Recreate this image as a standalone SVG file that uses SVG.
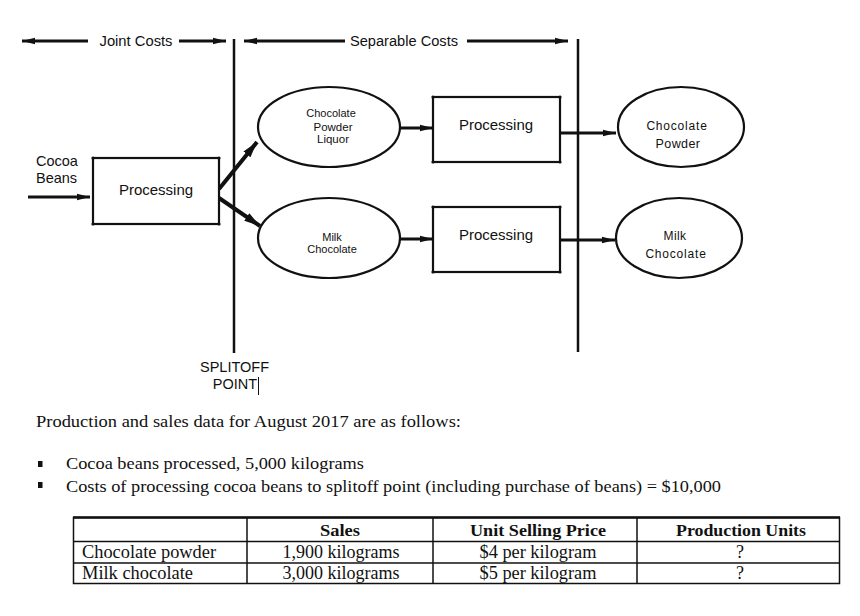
<svg xmlns="http://www.w3.org/2000/svg" width="860" height="616" viewBox="0 0 860 616">
<style>
.sans{font-family:"Liberation Sans",Arial,sans-serif;fill:#111}
.serif{font-family:"Liberation Serif","Times New Roman",serif;fill:#111}
.box{fill:#fff;stroke:#111;stroke-width:2.2}
.ell{fill:#fff;stroke:#111;stroke-width:2.2}
.ln{stroke:#111;fill:none}
.dot{fill:#111}
.tl{stroke:#111;stroke-width:1.5}
</style>
<defs>
<marker id="ah" markerUnits="userSpaceOnUse" markerWidth="14" markerHeight="8" refX="13" refY="4" orient="auto">
<path d="M0,0.8 L13,4 L0,7.2 Z" fill="#111"/>
</marker>
<marker id="ahs" markerUnits="userSpaceOnUse" markerWidth="14" markerHeight="8" refX="1" refY="4" orient="auto">
<path d="M14,0.8 L1,4 L14,7.2 Z" fill="#111"/>
</marker>
<marker id="ahb" markerUnits="userSpaceOnUse" markerWidth="17" markerHeight="11" refX="16" refY="5.5" orient="auto">
<path d="M0,1 L16,5.5 L0,10 Z" fill="#111"/>
</marker>
</defs>

<g id="connectors">
<line class="ln" x1="22" y1="41" x2="88" y2="41" stroke-width="3" marker-start="url(#ahs)"/>
<line class="ln" x1="179" y1="41" x2="226" y2="41" stroke-width="3" marker-end="url(#ah)"/>
<line class="ln" x1="244" y1="41" x2="345" y2="41" stroke-width="3" marker-start="url(#ahs)"/>
<line class="ln" x1="467" y1="41" x2="568" y2="41" stroke-width="3" marker-end="url(#ah)"/>
<line class="ln" x1="234" y1="39" x2="234" y2="353" stroke-width="2.5"/>
<line class="ln" x1="578" y1="39" x2="578" y2="352" stroke-width="2.5"/>
<line class="ln" x1="28" y1="197" x2="90" y2="197" stroke-width="3" marker-end="url(#ah)"/>
<line class="ln" x1="219" y1="189" x2="257" y2="142" stroke-width="4" marker-end="url(#ahb)"/>
<line class="ln" x1="219" y1="198" x2="260" y2="226" stroke-width="4" marker-end="url(#ahb)"/>
<line class="ln" x1="400" y1="128" x2="433" y2="128" stroke-width="3" marker-end="url(#ah)"/>
<line class="ln" x1="400" y1="239" x2="433" y2="239" stroke-width="3" marker-end="url(#ah)"/>
<line class="ln" x1="560" y1="133" x2="616" y2="133" stroke-width="3" marker-end="url(#ah)"/>
<line class="ln" x1="560" y1="240" x2="615" y2="240" stroke-width="3" marker-end="url(#ah)"/>
</g>

<g id="label-joint"><text class="sans" x="136" y="46" font-size="14" text-anchor="middle" textLength="73" lengthAdjust="spacingAndGlyphs">Joint Costs</text></g>
<g id="label-separable"><text class="sans" x="404" y="46" font-size="14" text-anchor="middle" textLength="108" lengthAdjust="spacingAndGlyphs">Separable Costs</text></g>

<g id="cocoa-beans">
<text class="sans" x="36" y="166" font-size="14.5">Cocoa</text>
<text class="sans" x="36" y="183" font-size="14.5">Beans</text>
</g>

<g id="processing-joint">
<rect class="box" x="93" y="158" width="126" height="66"/>
<circle class="dot" cx="93" cy="158" r="1.6"/><circle class="dot" cx="219" cy="158" r="1.6"/>
<circle class="dot" cx="93" cy="224" r="1.6"/><circle class="dot" cx="219" cy="224" r="1.6"/>
<text class="sans" x="156" y="195" font-size="15" text-anchor="middle">Processing</text>
</g>

<g id="chocolate-powder-liquor">
<ellipse class="ell" cx="329" cy="127" rx="71" ry="40"/>
<text class="sans" x="331" y="117" font-size="11" text-anchor="middle">Chocolate</text>
<text class="sans" x="333" y="131" font-size="11.5" text-anchor="middle">Powder</text>
<text class="sans" x="333" y="143" font-size="11.5" text-anchor="middle">Liquor</text>
</g>

<g id="milk-chocolate-split">
<ellipse class="ell" cx="329" cy="238" rx="71" ry="40"/>
<text class="sans" x="332" y="241" font-size="11" text-anchor="middle">Milk</text>
<text class="sans" x="332" y="253" font-size="11" text-anchor="middle">Chocolate</text>
</g>

<g id="processing-powder">
<rect class="box" x="433" y="97" width="127" height="65"/>
<circle class="dot" cx="433" cy="97" r="1.6"/><circle class="dot" cx="560" cy="97" r="1.6"/>
<circle class="dot" cx="433" cy="162" r="1.6"/><circle class="dot" cx="560" cy="162" r="1.6"/>
<text class="sans" x="496" y="130" font-size="15" text-anchor="middle">Processing</text>
</g>

<g id="processing-milk">
<rect class="box" x="433" y="207" width="127" height="65"/>
<circle class="dot" cx="433" cy="207" r="1.6"/><circle class="dot" cx="560" cy="207" r="1.6"/>
<circle class="dot" cx="433" cy="272" r="1.6"/><circle class="dot" cx="560" cy="272" r="1.6"/>
<text class="sans" x="496" y="240" font-size="15" text-anchor="middle">Processing</text>
</g>

<g id="chocolate-powder">
<ellipse class="ell" cx="681" cy="127" rx="63" ry="40"/>
<text class="sans" x="677" y="130" font-size="12" text-anchor="middle" letter-spacing="0.8">Chocolate</text>
<text class="sans" x="678" y="148" font-size="12.5" text-anchor="middle" letter-spacing="0.4">Powder</text>
</g>

<g id="milk-chocolate">
<ellipse class="ell" cx="679" cy="238" rx="63" ry="40"/>
<text class="sans" x="675" y="240" font-size="12" text-anchor="middle" letter-spacing="0.4">Milk</text>
<text class="sans" x="676" y="258" font-size="12" text-anchor="middle" letter-spacing="0.8">Chocolate</text>
</g>

<g id="splitoff">
<text class="sans" x="234.5" y="372" font-size="14.5" text-anchor="middle">SPLITOFF</text>
<text class="sans" x="235" y="389" font-size="14.5" text-anchor="middle">POINT</text>
<line x1="258.5" y1="377" x2="258.5" y2="395" stroke="#111" stroke-width="1"/>
</g>

<g id="description">
<text class="serif" x="36" y="427" font-size="17" textLength="425" lengthAdjust="spacingAndGlyphs">Production and sales data for August 2017 are as follows:</text>
<rect x="38" y="461" width="4.5" height="6" fill="#111"/>
<text class="serif" x="66" y="469" font-size="17" textLength="298" lengthAdjust="spacingAndGlyphs">Cocoa beans processed, 5,000 kilograms</text>
<rect x="38" y="482" width="4.5" height="6" fill="#111"/>
<text class="serif" x="66" y="492" font-size="17" textLength="655" lengthAdjust="spacingAndGlyphs">Costs of processing cocoa beans to splitoff point (including purchase of beans) = $10,000</text>
</g>

<g id="table">
<rect x="73.5" y="517.5" width="766" height="66" fill="none" stroke="#111" stroke-width="1.5"/>
<line x1="73" y1="517.5" x2="840" y2="517.5" stroke="#111" stroke-width="2.5"/>
<line class="tl" x1="73" y1="541.5" x2="840" y2="541.5" stroke-width="2"/>
<line class="tl" x1="73" y1="563" x2="840" y2="563"/>
<line class="tl" x1="247" y1="517" x2="247" y2="584"/>
<line class="tl" x1="433" y1="517" x2="433" y2="584"/>
<line class="tl" x1="637" y1="517" x2="637" y2="584"/>
<text class="serif" x="340" y="536" font-size="17.5" font-weight="bold" text-anchor="middle" textLength="40" lengthAdjust="spacingAndGlyphs">Sales</text>
<text class="serif" x="538" y="536" font-size="17.5" font-weight="bold" text-anchor="middle" textLength="136" lengthAdjust="spacingAndGlyphs">Unit Selling Price</text>
<text class="serif" x="741" y="536" font-size="17.5" font-weight="bold" text-anchor="middle" textLength="130" lengthAdjust="spacingAndGlyphs">Production Units</text>
<text class="serif" x="82" y="558" font-size="18" textLength="134" lengthAdjust="spacingAndGlyphs">Chocolate powder</text>
<text class="serif" x="341" y="558" font-size="18" text-anchor="middle" textLength="117" lengthAdjust="spacingAndGlyphs">1,900 kilograms</text>
<text class="serif" x="538" y="558" font-size="18" text-anchor="middle" textLength="117" lengthAdjust="spacingAndGlyphs">$4 per kilogram</text>
<text class="serif" x="740" y="558" font-size="18" text-anchor="middle">?</text>
<text class="serif" x="82" y="579" font-size="18" textLength="111" lengthAdjust="spacingAndGlyphs">Milk chocolate</text>
<text class="serif" x="341" y="579" font-size="18" text-anchor="middle" textLength="117" lengthAdjust="spacingAndGlyphs">3,000 kilograms</text>
<text class="serif" x="538" y="579" font-size="18" text-anchor="middle" textLength="117" lengthAdjust="spacingAndGlyphs">$5 per kilogram</text>
<text class="serif" x="740" y="579" font-size="18" text-anchor="middle">?</text>
</g>
</svg>
